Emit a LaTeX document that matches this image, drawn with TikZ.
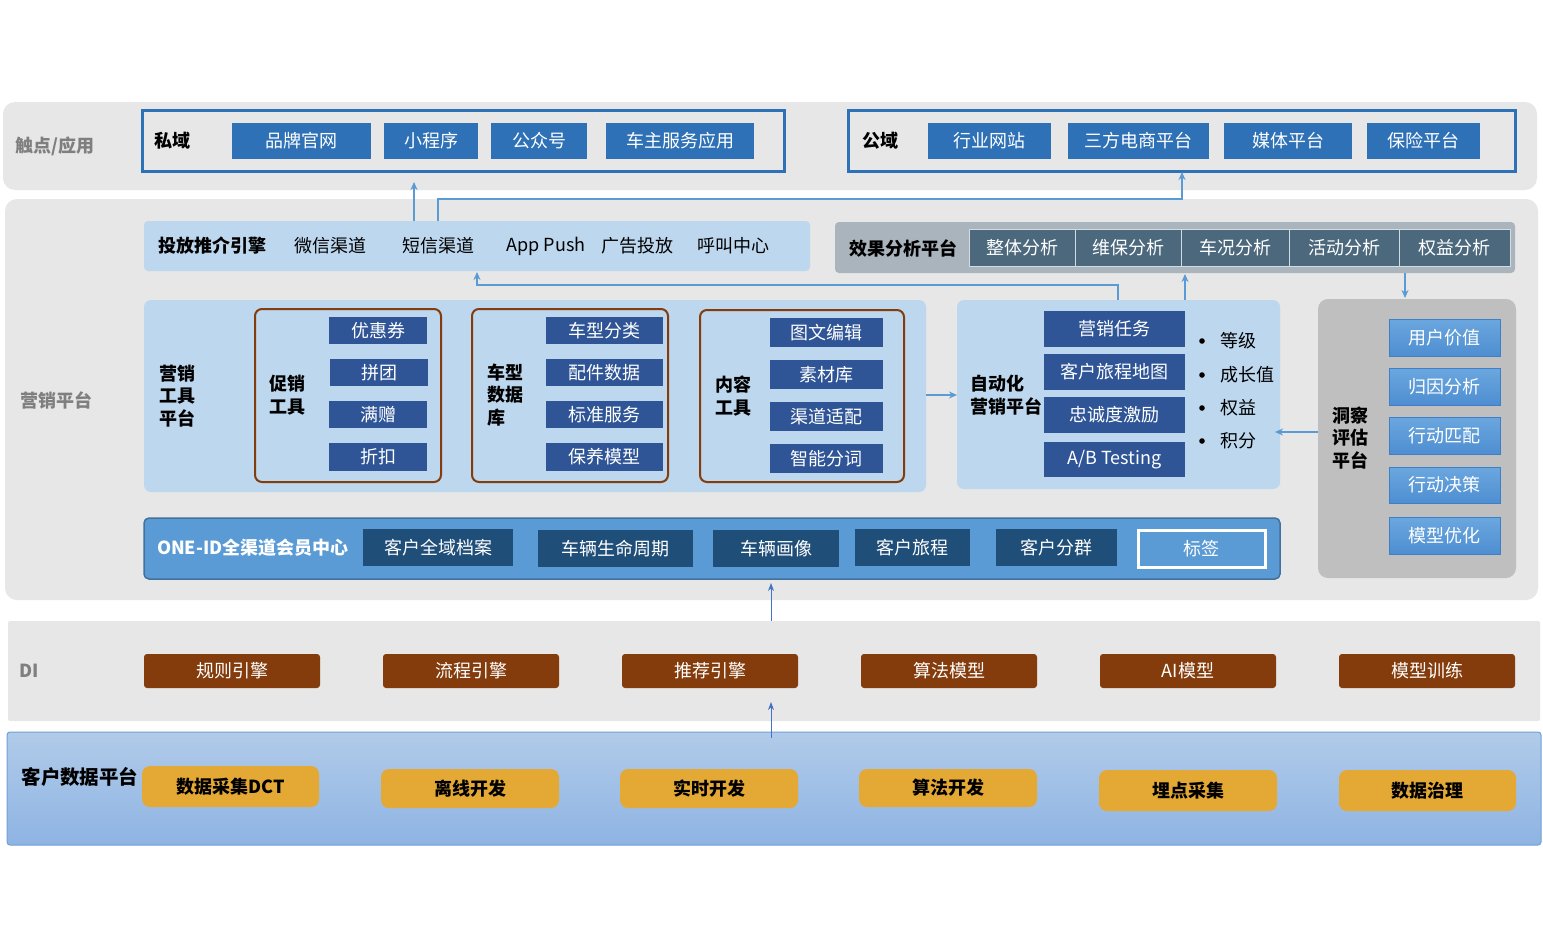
\documentclass[tikz,border=0pt]{standalone}
\usepackage{fontspec}
\setmainfont{Noto Sans CJK SC}
\usetikzlibrary{arrows.meta}
\definecolor{bandgray}{HTML}{E7E7E7}
\definecolor{lblgray}{HTML}{7F7F7F}
\definecolor{topblue}{HTML}{2E71B6}
\definecolor{panelblue}{HTML}{BDD7EE}
\definecolor{btndark}{HTML}{2F5597}
\definecolor{effpanel}{HTML}{A9B4BD}
\definecolor{effcell}{HTML}{4C687D}
\definecolor{brownc}{HTML}{843C0C}
\definecolor{insgray}{HTML}{BFBFBF}
\definecolor{onepanel}{HTML}{5B9BD5}
\definecolor{oneborder}{HTML}{41719C}
\definecolor{onecell}{HTML}{1F4E79}
\definecolor{yellowc}{HTML}{E4A835}
\definecolor{arrblue}{HTML}{5B9BD5}
\definecolor{arrdark}{HTML}{4472C4}
\definecolor{cdptop}{HTML}{B1CBE9}
\definecolor{cdpbot}{HTML}{8EB4E3}
\definecolor{cdpdraw}{HTML}{6FA0DC}
\definecolor{cellline}{HTML}{D3DBE1}
\definecolor{instop}{HTML}{6BA7DF}
\definecolor{insbot}{HTML}{4E8ED1}
\definecolor{insdraw}{HTML}{3F7FC5}
\newcommand{\bx}[7]{\node[#6, minimum width={(#4-#2)*1pt}, minimum height={(#5-#3)*1pt}] (#1) at ({(#2+#4)/2},{(#3+#5)/2}) {#7};}
\begin{document}
\begin{tikzpicture}[x=1pt,y=-1pt,
  every node/.style={inner sep=0pt, outer sep=0pt, font=\fontsize{18}{22.5}\selectfont},
  band/.style={fill=bandgray, rounded corners=12pt},
  cdpband/.style={top color=cdptop, bottom color=cdpbot, draw=cdpdraw, line width=1pt, rounded corners=3pt},
  grylbl/.style={text=lblgray, font=\fontsize{18}{22.5}\selectfont\bfseries},
  blbl/.style={text=black, font=\fontsize{18}{22.5}\selectfont\bfseries, align=left},
  frameblue/.style={draw=topblue, line width=3pt},
  tbtn/.style={fill=topblue, text=white},
  panel/.style={fill=panelblue, rounded corners=5pt},
  dbtn/.style={fill=btndark, text=white},
  ecell/.style={fill=effcell, text=white, draw=cellline, line width=1pt},
  bframe/.style={draw=brownc, line width=2pt, rounded corners=7pt},
  ibtn/.style={top color=instop, bottom color=insbot, draw=insdraw, line width=1pt, text=white},
  ocell/.style={fill=onecell, text=white},
  dibtn/.style={fill=brownc, text=white, rounded corners=3pt},
  ybtn/.style={fill=yellowc, text=black, rounded corners=8pt, font=\fontsize{18}{22.5}\selectfont\bfseries},
  arr/.style={draw=arrblue, line width=2.2pt, -{Stealth[length=8pt,width=7pt]}},
  arrthin/.style={draw=arrdark, line width=1pt, -{Stealth[length=8pt,width=6pt]}}
]
\useasboundingbox[fill=white] (0,0) rectangle (1543,946);

% bands
\bx{b1}{3}{102}{1537}{190}{band}{}
\bx{b2}{5}{199}{1538}{600}{band}{}
\bx{b3}{8}{621}{1540}{721}{band, rounded corners=2pt}{}
\bx{b4}{7}{732}{1541}{845}{cdpband}{}
\node[grylbl] (l1) at (55,146) {触点/应用};
\node[grylbl] (l2) at (56,400) {营销平台};
\node[grylbl] (l3) at (29,671) {DI};
\node[blbl, font=\fontsize{19.5}{22.5}\selectfont\bfseries] (l4) at (80,777) {客户数据平台};

% private domain
\bx{sy}{142}{110}{784}{171}{frameblue}{}
\node[blbl] (syl) at (172,141) {私域};
\bx{p1}{232}{123}{371}{159}{tbtn}{品牌官网}
\bx{p2}{384}{123}{478}{159}{tbtn}{小程序}
\bx{p3}{491}{123}{587}{159}{tbtn}{公众号}
\bx{p4}{606}{123}{754}{159}{tbtn}{车主服务应用}
% public domain
\bx{gy}{848}{110}{1515}{171}{frameblue}{}
\node[blbl] (gyl) at (880,141) {公域};
\bx{g1}{928}{123}{1051}{159}{tbtn}{行业网站}
\bx{g2}{1068}{123}{1209}{159}{tbtn}{三方电商平台}
\bx{g3}{1224}{123}{1352}{159}{tbtn}{媒体平台}
\bx{g4}{1367}{123}{1480}{159}{tbtn}{保险平台}

% delivery engine
\bx{tf}{144}{221}{810}{271}{panel, rounded corners=4pt}{}
\node[blbl] (tf0) at (212,246) {投放推介引擎};
\node (tf1) at (330,246) {微信渠道};
\node (tf2) at (438,246) {短信渠道};
\node (tf3) at (546,246) {App Push};
\node (tf4) at (637,246) {广告投放};
\node (tf5) at (733,246) {呼叫中心};

% effect analysis
\bx{xg}{835}{222}{1515}{273}{fill=effpanel, rounded corners=4pt}{}
\node[blbl] (xgl) at (903,248) {效果分析平台};
\bx{e1}{969}{229}{1075}{266}{ecell}{整体分析}
\bx{e2}{1075}{229}{1181}{266}{ecell}{维保分析}
\bx{e3}{1181}{229}{1289}{266}{ecell}{车况分析}
\bx{e4}{1289}{229}{1399}{266}{ecell}{活动分析}
\bx{e5}{1399}{229}{1510}{266}{ecell}{权益分析}

% marketing tool platform
\bx{tools}{144}{300}{926}{492}{panel, rounded corners=7pt}{}
\node[blbl] (toolsl) at (177,396) {营销\\工具\\平台};
\bx{fr1}{255}{309}{441}{482}{bframe}{}
\node[blbl] (fr1l) at (287,395) {促销\\工具};
\bx{c1}{329}{317}{427}{344}{dbtn}{优惠券}
\bx{c2}{330}{359}{428}{386}{dbtn}{拼团}
\bx{c3}{329}{401}{427}{428}{dbtn}{满赠}
\bx{c4}{329}{443}{427}{471}{dbtn}{折扣}
\bx{fr2}{472}{309}{668}{482}{bframe}{}
\node[blbl, anchor=west] (fr2l) at (487,395) {车型\\数据\\库};
\bx{d1}{546}{317}{663}{344}{dbtn}{车型分类}
\bx{d2}{546}{359}{663}{386}{dbtn}{配件数据}
\bx{d3}{546}{401}{663}{428}{dbtn}{标准服务}
\bx{d4}{546}{443}{663}{471}{dbtn}{保养模型}
\bx{fr3}{700}{310}{904}{482}{bframe}{}
\node[blbl] (fr3l) at (733,396) {内容\\工具};
\bx{n1}{770}{318}{883}{347}{dbtn}{图文编辑}
\bx{n2}{770}{360}{883}{389}{dbtn}{素材库}
\bx{n3}{770}{402}{883}{431}{dbtn}{渠道适配}
\bx{n4}{770}{444}{883}{473}{dbtn}{智能分词}

% automation
\bx{auto}{957}{300}{1280}{489}{panel, rounded corners=7pt}{}
\node[blbl, anchor=west] (autol) at (970,395) {自动化\\营销平台};
\bx{a1}{1044}{311}{1185}{347}{dbtn}{营销任务}
\bx{a2}{1044}{354}{1185}{390}{dbtn}{客户旅程地图}
\bx{a3}{1044}{397}{1185}{433}{dbtn}{忠诚度激励}
\bx{a4}{1044}{442}{1185}{477}{dbtn}{A/B Testing}
\foreach \yy/\tt/\nm in {341/等级/k1, 375/成长值/k2, 408/权益/k3, 441/积分/k4}{
  \fill (1202,\yy) circle (2.8pt);
  \node[anchor=west] (\nm) at (1220,\yy) {\tt};
}

% insight
\bx{ins}{1318}{299}{1516}{578}{fill=insgray, rounded corners=10pt}{}
\node[blbl] (insl) at (1350,438) {洞察\\评估\\平台};
\bx{i1}{1389}{319}{1500}{356}{ibtn}{用户价值}
\bx{i2}{1389}{368}{1500}{405}{ibtn}{归因分析}
\bx{i3}{1389}{417}{1500}{454}{ibtn}{行动匹配}
\bx{i4}{1389}{467}{1500}{503}{ibtn}{行动决策}
\bx{i5}{1389}{517}{1500}{554}{ibtn}{模型优化}

% ONE-ID
\bx{one}{144}{518}{1280}{579}{fill=onepanel, draw=oneborder, line width=1.5pt, rounded corners=5pt}{}
\node[blbl, text=white, anchor=west] (onel) at (157,548) {ONE-ID全渠道会员中心};
\bx{o1}{363}{529}{513}{566}{ocell}{客户全域档案}
\bx{o2}{538}{530}{693}{567}{ocell}{车辆生命周期}
\bx{o3}{713}{530}{839}{567}{ocell}{车辆画像}
\bx{o4}{855}{529}{970}{566}{ocell}{客户旅程}
\bx{o5}{996}{529}{1117}{566}{ocell}{客户分群}
\bx{o6}{1138}{530}{1265}{567}{fill=onepanel, draw=white, line width=3pt, text=white}{标签}

% DI
\bx{di1}{144}{654}{320}{688}{dibtn}{规则引擎}
\bx{di2}{383}{654}{559}{688}{dibtn}{流程引擎}
\bx{di3}{622}{654}{798}{688}{dibtn}{推荐引擎}
\bx{di4}{861}{654}{1037}{688}{dibtn}{算法模型}
\bx{di5}{1100}{654}{1276}{688}{dibtn}{AI模型}
\bx{di6}{1339}{654}{1515}{688}{dibtn}{模型训练}

% customer data platform
\bx{y1}{142}{766}{319}{807}{ybtn}{数据采集DCT}
\bx{y2}{381}{769}{559}{808}{ybtn}{离线开发}
\bx{y3}{620}{769}{798}{808}{ybtn}{实时开发}
\bx{y4}{859}{769}{1037}{807}{ybtn}{算法开发}
\bx{y5}{1099}{770}{1277}{811}{ybtn}{埋点采集}
\bx{y6}{1339}{770}{1516}{811}{ybtn}{数据治理}

% helper coordinates
\coordinate (x414) at (414,0);
\coordinate (x438) at (438,0);
\coordinate (x477) at (477,0);
\coordinate (x771) at (771,0);
\coordinate (x1118) at (1118,0);
\coordinate (x1182) at (1182,0);
\coordinate (x1185) at (1185,0);
\coordinate (x1405) at (1405,0);
\coordinate (y199) at (0,199);
\coordinate (y285) at (0,285);
\coordinate (y395) at (0,395);
\coordinate (y432) at (0,432);

% connectors
\draw[arr, shorten >=11pt] (tf.north -| x414) -- (sy.south -| x414);
\draw[arr, shorten >=1pt] (tf.north -| x438) -- (x438 |- y199) -- (x1182 |- y199) -- (gy.south -| x1182);
\draw[arr, shorten >=1pt] (auto.north -| x1118) -- (x1118 |- y285) -- (x477 |- y285) -- (tf.south -| x477);
\draw[arr, shorten >=1pt] (auto.north -| x1185) -- (xg.south -| x1185);
\draw[arr, shorten >=1pt] (xg.south -| x1405) -- (ins.north -| x1405);
\draw[arr] (tools.east |- y395) -- (auto.west |- y395);
\draw[arr, shorten >=-5pt] (ins.west |- y432) -- (auto.east |- y432);
\draw[arrthin, shorten >=4pt] (b3.north -| x771) -- (one.south -| x771);
\draw[arrthin, shorten <=-6pt, shorten >=-19pt] (b4.north -| x771) -- (b3.south -| x771);
\end{tikzpicture}
\end{document}
